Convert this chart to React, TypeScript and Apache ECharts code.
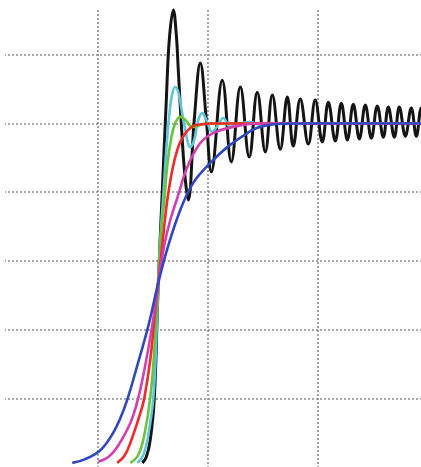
import React, { useEffect, useRef } from "react";
import * as echarts from "echarts";

// Step responses (x: time in grid units, y: normalized output, 1.0 = settled level)
const BLACK: [number, number][] = [
  [1.403, 0.012], [1.439, 0.029], [1.475, 0.079], [1.512, 0.201], [1.548, 0.536],
  [1.585, 0.806], [1.621, 1.068], [1.648, 1.243], [1.685, 1.33], [1.712, 1.257],
  [1.73, 1.155], [1.766, 0.952], [1.794, 0.835], [1.821, 0.777], [1.875, 1.01],
  [1.93, 1.176], [1.985, 1.01], [2.03, 0.859], [2.13, 1.126], [2.212, 0.888],
  [2.294, 1.106], [2.375, 0.902], [2.448, 1.091], [2.521, 0.917], [2.585, 1.083],
  [2.657, 0.925], [2.721, 1.077], [2.775, 0.934], [2.839, 1.071], [2.912, 0.94],
  [2.975, 1.068], [3.039, 0.946], [3.094, 1.062], [3.157, 0.949], [3.212, 1.059],
  [3.267, 0.952], [3.321, 1.056], [3.376, 0.955], [3.43, 1.054], [3.485, 0.957],
  [3.539, 1.051], [3.594, 0.96], [3.639, 1.048], [3.694, 0.96], [3.739, 1.048],
  [3.794, 0.963], [3.848, 1.045], [3.894, 0.963], [3.939, 1.045], [3.994, 0.963],
];

const CYAN: [number, number][] = [
  [1.357, 0.012], [1.412, 0.035], [1.457, 0.093], [1.503, 0.201], [1.53, 0.37],
  [1.548, 0.536], [1.566, 0.661], [1.594, 0.792], [1.621, 0.923], [1.648, 1.024],
  [1.675, 1.086], [1.703, 1.106], [1.73, 1.091], [1.757, 1.045], [1.794, 0.981],
  [1.839, 0.931], [1.875, 0.952], [1.912, 1.01], [1.948, 1.03], [1.985, 1.01],
  [2.039, 0.975], [2.085, 0.993], [2.139, 1.016], [2.203, 0.99], [2.294, 1.0],
  [2.385, 1.004], [2.475, 0.996], [2.612, 1.0], [4.02, 1.0],
];

const GREEN: [number, number][] = [
  [1.294, 0.012], [1.366, 0.035], [1.421, 0.093], [1.475, 0.201], [1.512, 0.341],
  [1.548, 0.536], [1.575, 0.69], [1.603, 0.777], [1.63, 0.879], [1.666, 0.957],
  [1.703, 1.001], [1.748, 1.019], [1.794, 1.01], [1.839, 0.993], [1.885, 0.99],
  [1.93, 0.996], [2.021, 1.0], [4.02, 1.0],
];

const RED: [number, number][] = [
  [1.175, 0.012], [1.239, 0.032], [1.294, 0.07], [1.385, 0.157], [1.421, 0.201],
  [1.475, 0.311], [1.521, 0.457], [1.548, 0.536], [1.575, 0.617], [1.603, 0.704],
  [1.63, 0.777], [1.675, 0.864], [1.721, 0.923], [1.766, 0.957], [1.812, 0.978],
  [1.866, 0.993], [1.93, 0.997], [2.021, 1.0], [4.02, 1.0],
];

const MAGENTA: [number, number][] = [
  [1.003, 0.015], [1.094, 0.029], [1.175, 0.058], [1.294, 0.128], [1.366, 0.201],
  [1.43, 0.297], [1.494, 0.413], [1.548, 0.536], [1.603, 0.646], [1.657, 0.719],
  [1.721, 0.783], [1.812, 0.873], [1.93, 0.943], [2.048, 0.972], [2.23, 0.99],
  [2.412, 0.999], [2.566, 1.0], [4.02, 1.0],
];

const BLUE: [number, number][] = [
  [0.766, 0.012], [0.885, 0.023], [1.021, 0.049], [1.12, 0.09], [1.2, 0.14],
  [1.27, 0.2], [1.348, 0.285], [1.457, 0.41], [1.548, 0.536], [1.63, 0.635],
  [1.748, 0.748], [1.866, 0.827], [2.021, 0.885], [2.175, 0.931], [2.357, 0.972],
  [2.475, 0.99], [2.657, 0.999], [2.839, 1.0], [4.02, 1.0],
];

const SERIES = [
  { name: "black", data: BLACK, color: "#141414", width: 3 },
  { name: "cyan", data: CYAN, color: "#5cc6da", width: 2.6 },
  { name: "green", data: GREEN, color: "#6cc23c", width: 2.6 },
  { name: "red", data: RED, color: "#ee2a2a", width: 2.6 },
  { name: "magenta", data: MAGENTA, color: "#d23fae", width: 2.6 },
  { name: "blue", data: BLUE, color: "#3048be", width: 2.6 },
];

const gridLine = {
  show: true,
  showMinLine: false,
  showMaxLine: false,
  lineStyle: { color: "#8c8c8c", width: 1.6, type: [2, 2] as number[] },
};

export default function App() {
  const ref = useRef<HTMLDivElement>(null);
  useEffect(() => {
    if (!ref.current) return;
    const chart = echarts.init(ref.current, undefined, { renderer: "svg" });
    chart.setOption({
      animation: false,
      backgroundColor: "#ffffff",
      grid: {
        left: -12,
        top: -14,
        width: 440,
        height: 481,
        containLabel: false,
        outerBoundsMode: "none",
      },
      xAxis: {
        type: "value",
        min: 0,
        max: 4,
        interval: 1,
        axisLine: { show: false },
        axisTick: { show: false },
        axisLabel: { show: false },
        splitLine: gridLine,
      },
      yAxis: {
        type: "value",
        min: 0,
        max: 1.4,
        interval: 0.2,
        axisLine: { show: false },
        axisTick: { show: false },
        axisLabel: { show: false },
        splitLine: gridLine,
      },
      graphic: [
        { type: "rect", z: 1, shape: { x: 0, y: 0, width: 5, height: 467 }, style: { fill: "#ffffff" } },
        { type: "rect", z: 1, shape: { x: 0, y: 0, width: 421, height: 8 }, style: { fill: "#ffffff" } },
      ],
      series: SERIES.map((s, i) => ({
        type: "line",
        name: s.name,
        data: s.data,
        smooth: 0.4,
        symbol: "none",
        z: 2 + i,
        lineStyle: { color: s.color, width: s.width },
      })),
    });
    return () => chart.dispose();
  }, []);
  return (
    <div
      ref={ref}
      style={{ position: "fixed", left: 0, top: 0, width: 421, height: 467, background: "#fff" }}
    />
  );
}
